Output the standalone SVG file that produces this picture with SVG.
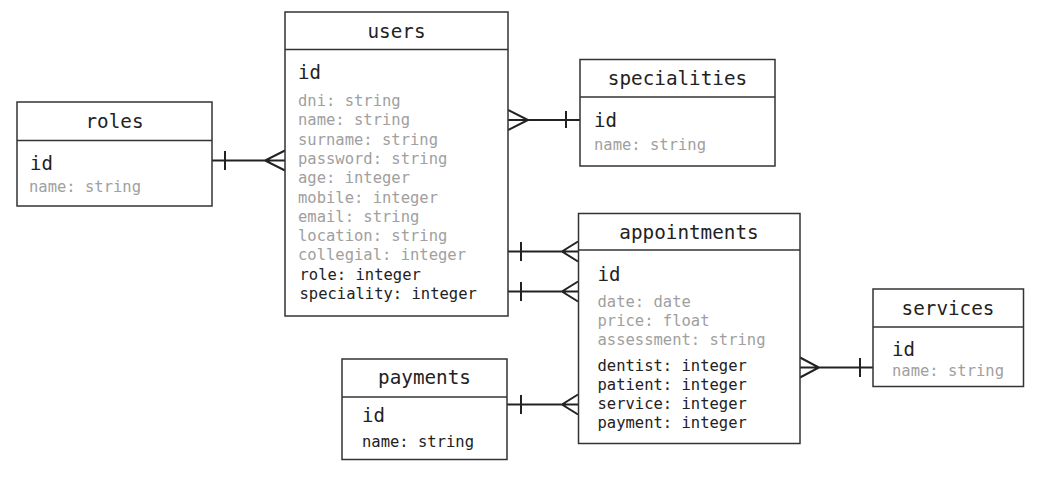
<svg xmlns="http://www.w3.org/2000/svg" width="1039" height="480" viewBox="0 0 1039 480">
<style>
.box{fill:#fff;stroke:#333;stroke-width:1.5}
.sep{stroke:#333;stroke-width:1.5}
.t{font-family:"DejaVu Sans Mono","Liberation Mono",monospace;font-size:19.3px;fill:#222;text-anchor:middle}
.id{font-family:"DejaVu Sans Mono","Liberation Mono",monospace;font-size:19px;fill:#222}
.g{font-family:"DejaVu Sans Mono","Liberation Mono",monospace;font-size:15.5px;fill:#a0a0a0}
.k{font-family:"DejaVu Sans Mono","Liberation Mono",monospace;font-size:15.5px;fill:#222}
.c{fill:none;stroke:#222;stroke-width:2}
</style>
<rect width="1039" height="480" fill="#fff"/>
<g id="connectors">
  <!-- roles - users -->
  <path class="c" d="M212 160.5H285M225 151V170M285 150.5L265 160.5L285 170.5"/>
  <!-- users - specialities -->
  <path class="c" d="M508 120H580M566 111V128M508 110L528 120L508 130"/>
  <!-- users role - appointments -->
  <path class="c" d="M508 251.5H578M521 242V261M578 241.5L562 251.5L578 261.5"/>
  <!-- users speciality - appointments -->
  <path class="c" d="M508 291.5H578M521 282V301M578 281.5L562 291.5L578 301.5"/>
  <!-- payments - appointments -->
  <path class="c" d="M507 404.5H578M521 395V414M578 394.5L562 404.5L578 414.5"/>
  <!-- appointments - services -->
  <path class="c" d="M800 367.5H873M860 358V377M800 357.5L819 367.5L800 377.5"/>
</g>
<g id="roles">
  <rect class="box" x="17" y="102" width="195" height="104"/>
  <line class="sep" x1="17" y1="140.5" x2="212" y2="140.5"/>
  <text class="t" x="114.5" y="128">roles</text>
  <text class="id" x="30" y="170">id</text>
  <text class="g" x="29" y="191.5">name: string</text>
</g>
<g id="users">
  <rect class="box" x="285" y="12" width="223" height="304"/>
  <line class="sep" x1="285" y1="49.5" x2="508" y2="49.5"/>
  <text class="t" x="396.5" y="37.5">users</text>
  <text class="id" x="298" y="79">id</text>
  <text class="g" x="298" y="106">dni: string</text>
  <text class="g" x="298" y="125.3">name: string</text>
  <text class="g" x="298" y="144.6">surname: string</text>
  <text class="g" x="298" y="163.9">password: string</text>
  <text class="g" x="298" y="183.2">age: integer</text>
  <text class="g" x="298" y="202.5">mobile: integer</text>
  <text class="g" x="298" y="221.8">email: string</text>
  <text class="g" x="298" y="241.1">location: string</text>
  <text class="g" x="298" y="260.4">collegial: integer</text>
  <text class="k" x="299.5" y="280">role: integer</text>
  <text class="k" x="299.5" y="299.3">speciality: integer</text>
</g>
<g id="specialities">
  <rect class="box" x="580" y="59.5" width="195" height="106.5"/>
  <line class="sep" x1="580" y1="97" x2="775" y2="97"/>
  <text class="t" x="677.5" y="85">specialities</text>
  <text class="id" x="594" y="127">id</text>
  <text class="g" x="594" y="149.5">name: string</text>
</g>
<g id="appointments">
  <rect class="box" x="578.5" y="213.5" width="221.5" height="230"/>
  <line class="sep" x1="578.5" y1="250" x2="800" y2="250"/>
  <text class="t" x="689" y="239">appointments</text>
  <text class="id" x="597.5" y="281">id</text>
  <text class="g" x="597.5" y="306.7">date: date</text>
  <text class="g" x="597.5" y="325.8">price: float</text>
  <text class="g" x="597.5" y="345">assessment: string</text>
  <text class="k" x="597.5" y="370.7">dentist: integer</text>
  <text class="k" x="597.5" y="390">patient: integer</text>
  <text class="k" x="597.5" y="409">service: integer</text>
  <text class="k" x="597.5" y="428">payment: integer</text>
</g>
<g id="payments">
  <rect class="box" x="342" y="359" width="165" height="100.5"/>
  <line class="sep" x1="342" y1="397" x2="507" y2="397"/>
  <text class="t" x="424.5" y="384">payments</text>
  <text class="id" x="362" y="422">id</text>
  <text class="k" x="362" y="447">name: string</text>
</g>
<g id="services">
  <rect class="box" x="873" y="289" width="150.5" height="97.5"/>
  <line class="sep" x1="873" y1="327" x2="1023.5" y2="327"/>
  <text class="t" x="948" y="315">services</text>
  <text class="id" x="892" y="356">id</text>
  <text class="g" x="892" y="376.3">name: string</text>
</g>
</svg>
